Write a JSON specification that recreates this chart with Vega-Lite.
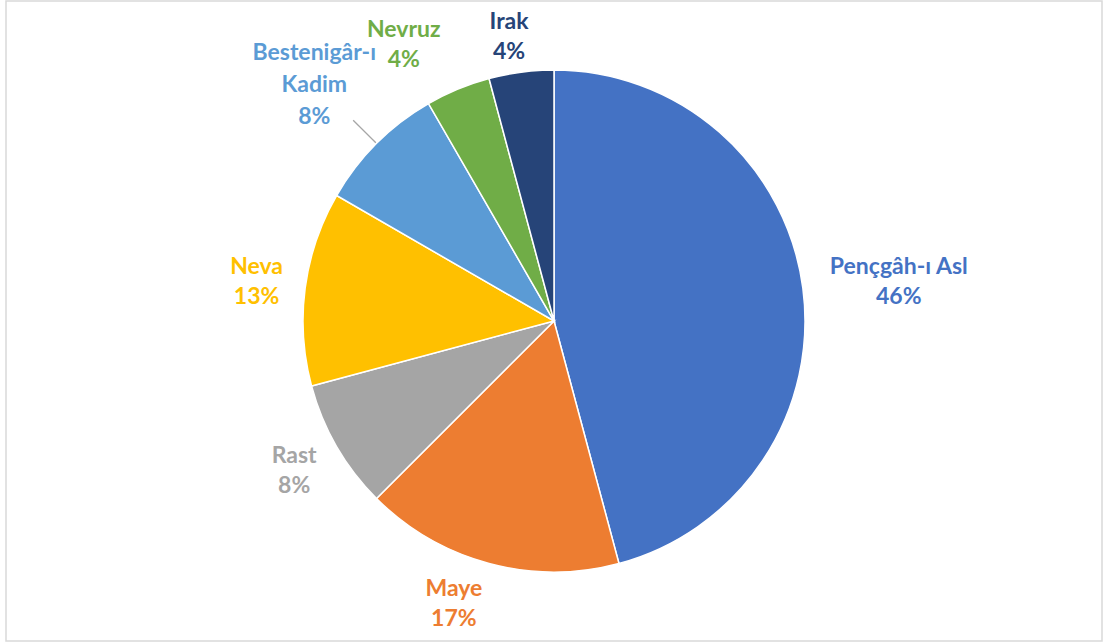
{
  "$schema": "https://vega.github.io/schema/vega-lite/v6.json",
  "width": 1096,
  "height": 640,
  "autosize": "none",
  "padding": {"left": 6, "top": 1, "right": 1, "bottom": 2},
  "background": "white",
  "config": {
    "view": {"stroke": null},
    "text": {"font": "Lato", "fontSize": 23, "fontWeight": "bold", "align": "center", "baseline": "middle", "lineBreak": "\n", "lineHeight": 30, "dy": -15}
  },
  "layer": [
    {
      "data": {"values": [{}]},
      "mark": {"type": "rect", "fill": "transparent", "stroke": "#d9d9d9", "strokeWidth": 1.5},
      "encoding": {
        "x": {"value": 0},
        "x2": {"value": "width"},
        "y": {"value": 0},
        "y2": {"value": "height"}
      }
    },
    {
      "data": {
        "values": [
          {"name": "Pençgâh-ı Asl", "value": 11},
          {"name": "Maye", "value": 4},
          {"name": "Rast", "value": 2},
          {"name": "Neva", "value": 3},
          {"name": "Bestenigâr-ı Kadim", "value": 2},
          {"name": "Nevruz", "value": 1},
          {"name": "Irak", "value": 1}
        ]
      },
      "transform": [
        {"window": [{"op": "row_number", "as": "i"}]},
        {"joinaggregate": [{"op": "sum", "field": "value", "as": "total"}]},
        {"calculate": "round(100*datum.value/datum.total)+'%'", "as": "pct"},
        {"calculate": "datum.name+'\\n'+datum.pct", "as": "label"},
        {"calculate": "datum.name+' '+datum.pct", "as": "label3"}
      ],
      "encoding": {
        "theta": {"field": "value", "type": "quantitative", "stack": true},
        "order": {"field": "i", "type": "quantitative"},
        "color": {
          "field": "name",
          "type": "nominal",
          "scale": {
            "domain": ["Pençgâh-ı Asl", "Maye", "Rast", "Neva", "Bestenigâr-ı Kadim", "Nevruz", "Irak"],
            "range": ["#4472C4", "#ED7D31", "#A5A5A5", "#FFC000", "#5B9BD5", "#70AD47", "#264478"]
          },
          "legend": null
        }
      },
      "layer": [
        {"mark": {"type": "arc", "radius": 251, "stroke": "white", "strokeWidth": 1.5}},
        {
          "mark": {"type": "arc", "radius": 284, "radius2": 252, "padAngle": 1.2, "filled": false, "strokeWidth": 1.3},
          "encoding": {
            "color": {"value": "#a6a6a6"},
            "detail": {"field": "name", "type": "nominal"},
            "opacity": {"condition": {"test": "datum.name==='Bestenigâr-ı Kadim'", "value": 1}, "value": 0}
          }
        },
        {
          "mark": {"type": "text", "radius": 300},
          "encoding": {"text": {"condition": {"test": "datum.name==='Neva' || datum.name==='Rast'", "field": "label", "type": "nominal"}, "value": ""}}
        },
        {
          "mark": {"type": "text", "radius": 300, "thetaOffset": 0.0785},
          "encoding": {"text": {"condition": {"test": "datum.name==='Maye'", "field": "label", "type": "nominal"}, "value": ""}}
        },
        {
          "mark": {"type": "text", "radius": 288, "thetaOffset": -0.026},
          "encoding": {"text": {"condition": {"test": "datum.name==='Irak'", "field": "label", "type": "nominal"}, "value": ""}}
        },
        {
          "mark": {"type": "text", "radius": 317, "thetaOffset": -0.101, "dy": -12},
          "encoding": {"text": {"condition": {"test": "datum.name==='Nevruz'", "field": "label", "type": "nominal"}, "value": ""}}
        },
        {
          "mark": {"type": "text", "radius": 339, "lineBreak": " ", "lineHeight": 32, "dy": -28},
          "encoding": {"text": {"condition": {"test": "datum.name==='Bestenigâr-ı Kadim'", "field": "label3", "type": "nominal"}, "value": ""}}
        },
        {
          "mark": {"type": "text", "radius": 347, "thetaOffset": 0.018},
          "encoding": {"text": {"condition": {"test": "datum.name==='Pençgâh-ı Asl'", "field": "label", "type": "nominal"}, "value": ""}}
        }
      ]
    }
  ]
}
